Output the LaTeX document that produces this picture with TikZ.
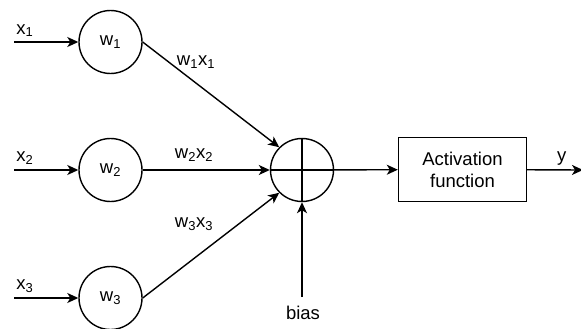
\documentclass[tikz,border=0pt]{standalone}
\usepackage{fontspec}
\setmainfont{Liberation Sans}
\usetikzlibrary{arrows.meta}

\begin{document}
\begin{tikzpicture}[x=1pt,y=-1pt,line width=1.4pt,
        >={Stealth[length=11pt,width=10pt,inset=3pt]},
        every node/.style={font=\fontsize{18.5}{22}\selectfont},
        weight/.style={draw,circle,minimum size=63pt,inner sep=0pt},
        block/.style={draw,rectangle,minimum width=128pt,minimum height=64pt,align=center}]
        \useasboundingbox (0,0) rectangle (581,329);

        % Weights
        \node[weight] (w1) at (110.5,42) {w\textsubscript{1}};
        \node[weight] (w2) at (110.5,170) {w\textsubscript{2}};
        \node[weight] (w3) at (110.5,298) {w\textsubscript{3}};

        % Summing junction and activation
        \node[weight] (sum) at (302,170) {};
        \draw (sum.north) -- (sum.south);
        \draw (sum.west) -- (sum.east);
        \node[block] (act) at (462.5,169.5) {Activation\\function};

        % Inputs
        \foreach \i/\y in {1/42,2/170,3/298} {
            \coordinate (in\i) at (14,\y);
            \draw[->] (in\i) -- (w\i) node[pos=0.17,above=1pt] {x\textsubscript{\i}};
        }

        % Weighted inputs
        \draw[->] (w1.east) -- (sum.north west);
        \draw[->] (w2) -- (sum);
        \draw[->] (w3.east) -- (sum.south west);
        \node (p1) at (196,62) {w\textsubscript{1}x\textsubscript{1}};
        \node (p2) at (194,155) {w\textsubscript{2}x\textsubscript{2}};
        \node (p3) at (194,224) {w\textsubscript{3}x\textsubscript{3}};

        % Bias
        \node (bias) at (303,313) {bias};
        \coordinate (b0) at (302,297);
        \draw[->] (b0) -- (sum);

        % Output
        \draw[->] (sum) -- (act);
        \coordinate (out) at (583,170);
        \draw[->] (act) -- (out) node[pos=0.62,above=1pt] {y};
\end{tikzpicture}
\end{document}
